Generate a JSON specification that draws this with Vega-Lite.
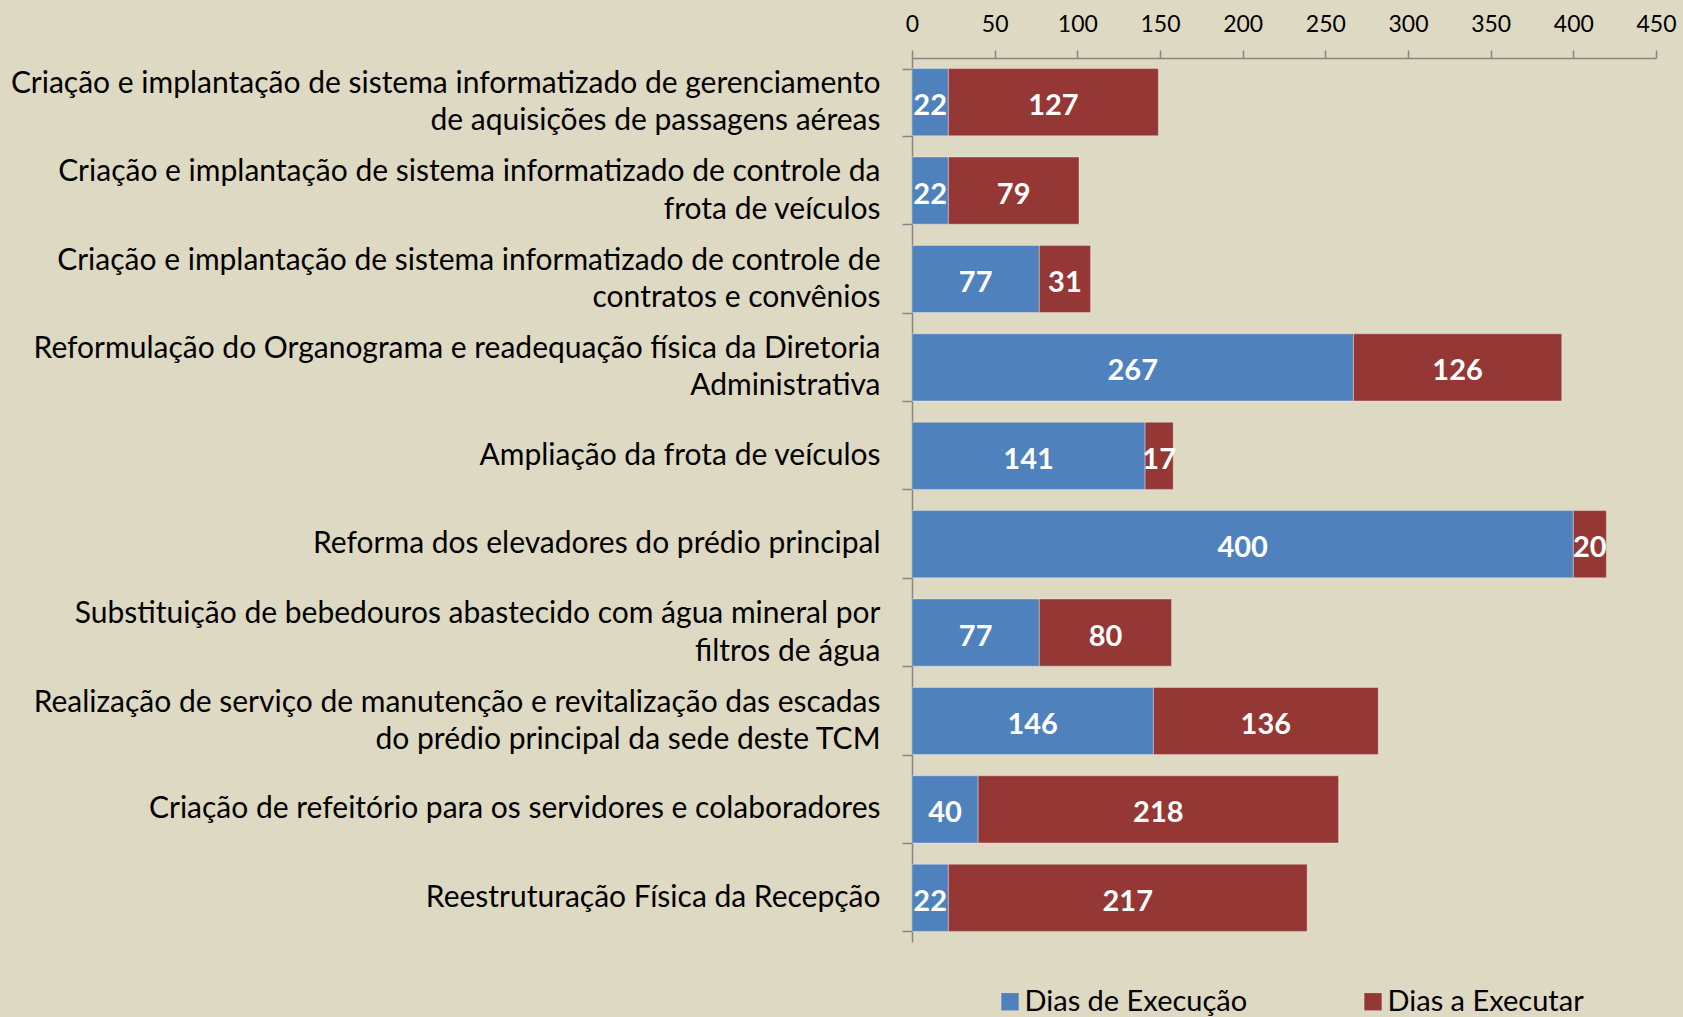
{
  "$schema": "https://vega.github.io/schema/vega-lite/v6.json",
  "width": 744,
  "height": 884,
  "autosize": {"type": "none"},
  "padding": {"left": 912, "top": 58, "right": 27, "bottom": 75},
  "background": "#DDD9C3",
  "config": {
    "view": {"stroke": null},
    "font": "Lato"
  },
  "data": {
    "values": [
      {"acao": "Criação e implantação de sistema informatizado de gerenciamento|de aquisições de passagens aéreas", "serie": "Dias de Execução", "dias": 22},
      {"acao": "Criação e implantação de sistema informatizado de gerenciamento|de aquisições de passagens aéreas", "serie": "Dias a Executar", "dias": 127},
      {"acao": "Criação e implantação de sistema informatizado de controle da|frota de veículos", "serie": "Dias de Execução", "dias": 22},
      {"acao": "Criação e implantação de sistema informatizado de controle da|frota de veículos", "serie": "Dias a Executar", "dias": 79},
      {"acao": "Criação e implantação de sistema informatizado de controle de|contratos e convênios", "serie": "Dias de Execução", "dias": 77},
      {"acao": "Criação e implantação de sistema informatizado de controle de|contratos e convênios", "serie": "Dias a Executar", "dias": 31},
      {"acao": "Reformulação do Organograma e readequação física da Diretoria|Administrativa", "serie": "Dias de Execução", "dias": 267},
      {"acao": "Reformulação do Organograma e readequação física da Diretoria|Administrativa", "serie": "Dias a Executar", "dias": 126},
      {"acao": "Ampliação da frota de veículos", "serie": "Dias de Execução", "dias": 141},
      {"acao": "Ampliação da frota de veículos", "serie": "Dias a Executar", "dias": 17},
      {"acao": "Reforma dos elevadores do prédio principal", "serie": "Dias de Execução", "dias": 400},
      {"acao": "Reforma dos elevadores do prédio principal", "serie": "Dias a Executar", "dias": 20},
      {"acao": "Substituição de bebedouros abastecido com água mineral por|filtros de água", "serie": "Dias de Execução", "dias": 77},
      {"acao": "Substituição de bebedouros abastecido com água mineral por|filtros de água", "serie": "Dias a Executar", "dias": 80},
      {"acao": "Realização de serviço de manutenção e revitalização das escadas|do prédio principal da sede deste TCM", "serie": "Dias de Execução", "dias": 146},
      {"acao": "Realização de serviço de manutenção e revitalização das escadas|do prédio principal da sede deste TCM", "serie": "Dias a Executar", "dias": 136},
      {"acao": "Criação de refeitório para os servidores e colaboradores", "serie": "Dias de Execução", "dias": 40},
      {"acao": "Criação de refeitório para os servidores e colaboradores", "serie": "Dias a Executar", "dias": 218},
      {"acao": "Reestruturação Física da Recepção", "serie": "Dias de Execução", "dias": 22},
      {"acao": "Reestruturação Física da Recepção", "serie": "Dias a Executar", "dias": 217}
    ]
  },
  "transform": [
    {"stack": "dias", "groupby": ["acao"], "sort": [{"field": "serie", "order": "descending"}], "as": ["x0", "x1"]},
    {"calculate": "(datum.x0 + datum.x1) / 2", "as": "xm"}
  ],
  "resolve": {"axis": {"y": "independent"}},
  "layer": [
    {
      "mark": {"type": "bar", "stroke": "#ffffff", "strokeOpacity": 0.35, "strokeWidth": 1},
      "encoding": {
        "y": {
          "field": "acao",
          "type": "nominal",
          "sort": null,
          "scale": {"paddingInner": 0.24, "paddingOuter": 0.12},
          "axis": {
            "orient": "left",
            "title": null,
            "labelExpr": "indexof(datum.label,'|') < 0 ? '' : [split(datum.label,'|')[0], pad(split(datum.label,'|')[1], length(split(datum.label,'|')[1]) + (indexof(datum.label,'gerenciamento') >= 0 ? 14 : indexof(datum.label,'controle da') >= 0 ? 20 : indexof(datum.label,'controle de') >= 0 ? 18 : indexof(datum.label,'Reformula') >= 0 ? 22 : indexof(datum.label,'bebedouros') >= 0 ? 21 : 11), '\\u2002')]",
            "labelFont": "Lato",
            "labelFontSize": 30,
            "labelLineHeight": 37.6,
            "labelColor": "#000000",
            "labelAlign": "right",
            "labelBaseline": "line-bottom",
            "labelPadding": 22,
            "labelLimit": 1000,
            "tickBand": "extent",
            "tickSize": 10,
            "tickColor": "#868686",
            "domainColor": "#868686",
            "tickWidth": 1.5,
            "domainWidth": 1.5
          }
        },
        "x": {
          "field": "x0",
          "type": "quantitative",
          "scale": {"domain": [0, 450], "nice": false},
          "axis": {
            "orient": "top",
            "title": null,
            "values": [0, 50, 100, 150, 200, 250, 300, 350, 400, 450],
            "grid": false,
            "labelFlush": false,
            "labelOverlap": false,
            "labelFont": "Lato",
            "labelFontSize": 23,
            "labelColor": "#000000",
            "labelPadding": 14,
            "tickSize": 8,
            "tickColor": "#868686",
            "domainColor": "#868686",
            "tickWidth": 1.5,
            "domainWidth": 1.5
          }
        },
        "x2": {"field": "x1"},
        "color": {
          "field": "serie",
          "type": "nominal",
          "scale": {"domain": ["Dias de Execução", "Dias a Executar"], "range": ["#4F81BD", "#953735"]},
          "legend": {
            "title": null,
            "orient": "none",
            "legendX": 83.5,
            "legendY": 929,
            "direction": "horizontal",
            "symbolType": "square",
            "symbolSize": 300,
            "symbolStrokeWidth": 0,
            "labelFont": "Lato",
            "labelFontSize": 29,
            "labelColor": "#000000",
            "labelOffset": 0,
            "columnPadding": 111,
            "labelLimit": 400
          }
        }
      }
    },
    {
      "mark": {"type": "text", "color": "#ffffff", "fontWeight": "bold", "fontSize": 29, "font": "Lato", "baseline": "middle", "align": "center", "dy": 4},
      "encoding": {
        "y": {
          "field": "acao",
          "type": "nominal",
          "sort": null,
          "axis": {
            "orient": "left",
            "title": null,
            "labelExpr": "indexof(datum.label,'|') < 0 ? datum.label : ''",
            "labelFont": "Lato",
            "labelFontSize": 30,
            "labelColor": "#000000",
            "labelAlign": "right",
            "labelBaseline": "middle",
            "labelPadding": 22,
            "labelLimit": 1000,
            "domain": false,
            "ticks": true,
            "tickSize": 10,
            "tickOpacity": 0
          }
        },
        "x": {"field": "xm", "type": "quantitative"},
        "text": {"field": "dias", "type": "quantitative"}
      }
    }
  ]
}
